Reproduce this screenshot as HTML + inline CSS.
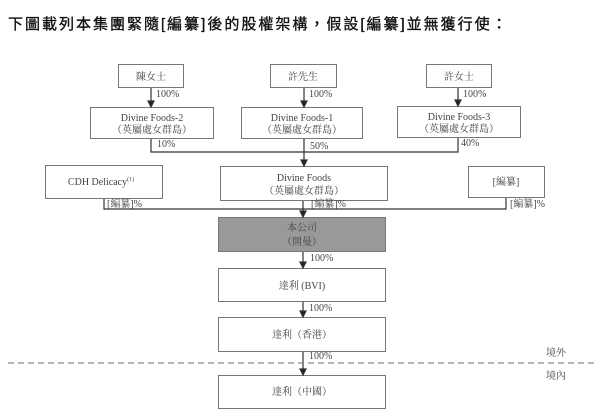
<!DOCTYPE html>
<html><head><meta charset="utf-8"><style>
html,body{margin:0;padding:0;background:#fff;}
svg{display:block;}
text{font-family:"Liberation Serif","Noto Serif CJK SC","Noto Sans CJK TC",serif;fill:#444;}
</style></head><body>
<svg width="600" height="416" viewBox="0 0 600 416" xmlns="http://www.w3.org/2000/svg">
<text x="8" y="29" style="font-family:'Liberation Sans','Noto Sans CJK TC',sans-serif;font-size:15px;letter-spacing:2px;fill:#111;stroke:#111;stroke-width:0.35">下圖載列本集團緊隨[編纂]後的股權架構，假設[編纂]並無獲行使：</text>
<g fill="#fff" stroke="#777" stroke-width="1">
<rect x="118.5" y="64.5" width="65" height="23"/>
<rect x="270.5" y="64.5" width="66" height="23"/>
<rect x="426.5" y="64.5" width="65" height="23"/>
<rect x="90.5" y="107.5" width="123" height="31"/>
<rect x="241.5" y="107.5" width="121" height="31"/>
<rect x="397.5" y="106.5" width="123" height="31"/>
<rect x="45.5" y="165.5" width="117" height="33"/>
<rect x="220.5" y="166.5" width="167" height="34"/>
<rect x="468.5" y="166.5" width="76" height="31"/>
<rect x="218.5" y="217.5" width="167" height="34" fill="#999"/>
<rect x="218.5" y="268.5" width="167" height="33"/>
<rect x="218.5" y="317.5" width="167" height="34"/>
<rect x="218.5" y="375.5" width="167" height="33"/>
</g>
<g stroke="#333" stroke-width="1.2" fill="none">
<line x1="151" y1="88" x2="151" y2="106"/><path d="M148,101 L154,101 L151,107z" fill="#222"/>
<line x1="304" y1="88" x2="304" y2="106"/><path d="M301,101 L307,101 L304,107z" fill="#222"/>
<line x1="458" y1="88" x2="458" y2="105"/><path d="M455,100 L461,100 L458,106z" fill="#222"/>
<polyline points="151,139 151,152 458,152 458,138"/>
<line x1="304" y1="139" x2="304" y2="166"/><path d="M301,160 L307,160 L304,166z" fill="#222"/>
<polyline points="104,199 104,209 506,209 506,198"/>
<line x1="303" y1="201" x2="303" y2="217"/><path d="M300,211 L306,211 L303,217z" fill="#222"/>
<line x1="303" y1="252" x2="303" y2="268"/><path d="M300,262 L306,262 L303,268z" fill="#222"/>
<line x1="303" y1="302" x2="303" y2="317"/><path d="M300,311 L306,311 L303,317z" fill="#222"/>
<line x1="303" y1="352" x2="303" y2="375"/><path d="M300,369 L306,369 L303,375z" fill="#222"/>
</g>
<line x1="8" y1="363" x2="598" y2="363" stroke="#888" stroke-width="1.2" stroke-dasharray="6,4"/>
<g font-size="10" text-anchor="middle">
<text x="151" y="80">陳女士</text>
<text x="303" y="80">許先生</text>
<text x="459" y="80">許女士</text>
<text x="152" y="121">Divine Foods-2</text><text x="152" y="133">（英屬處女群島）</text>
<text x="302" y="121">Divine Foods-1</text><text x="302" y="133">（英屬處女群島）</text>
<text x="459" y="120">Divine Foods-3</text><text x="459" y="132">（英屬處女群島）</text>
<text x="101" y="185">CDH Delicacy<tspan font-size="6" dy="-4">(1)</tspan></text>
<text x="304" y="181">Divine Foods</text><text x="304" y="194">（英屬處女群島）</text>
<text x="506" y="185">[編纂]</text>
<text x="302" y="231" fill="#333">本公司</text><text x="302" y="245" fill="#333">（開曼）</text>
<text x="302" y="289">達利 (BVI)</text>
<text x="302" y="338">達利（香港）</text>
<text x="302" y="395">達利（中國）</text>
</g>
<g font-size="10">
<text x="156" y="97">100%</text>
<text x="309" y="97">100%</text>
<text x="463" y="97">100%</text>
<text x="157" y="147">10%</text>
<text x="310" y="149">50%</text>
<text x="461" y="146">40%</text>
<text x="107" y="207">[編纂]%</text>
<text x="311" y="207">[編纂]%</text>
<text x="510" y="207">[編纂]%</text>
<text x="310" y="261">100%</text>
<text x="309" y="311">100%</text>
<text x="309" y="359">100%</text>
<text x="546" y="356">境外</text>
<text x="546" y="379">境內</text>
</g>
</svg>
</body></html>
